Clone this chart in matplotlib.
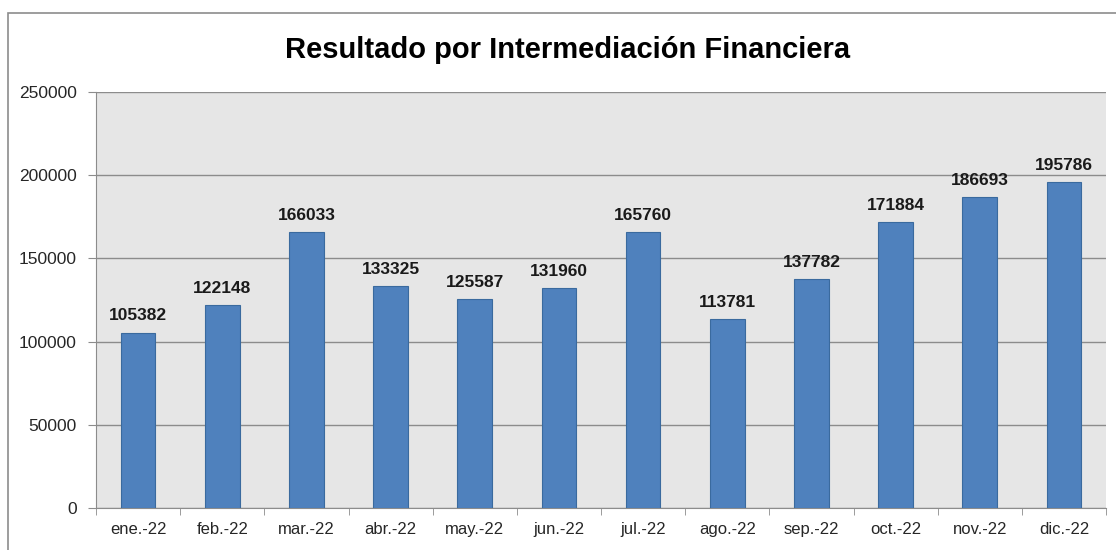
import numpy as np
import matplotlib.pyplot as plt
from matplotlib.patches import Rectangle

#___chart data___#
months = ["ene.-22", "feb.-22", "mar.-22", "abr.-22", "may.-22", "jun.-22",
          "jul.-22", "ago.-22", "sep.-22", "oct.-22", "nov.-22", "dic.-22"]
values = [105382, 122148, 166033, 133325, 125587, 131960,
          165760, 113781, 137782, 171884, 186693, 195786]
y_ticks = [0, 50000, 100000, 150000, 200000, 250000]

plt.rcParams['font.family'] = ['Liberation Sans', 'DejaVu Sans']

fig = plt.figure(figsize=(11.16, 5.5), dpi=100)
ax = fig.add_axes([96/1116, 1 - 508/550, (1106-96)/1116, (508-92)/550])

# outer chart frame (right and bottom edges fall outside the picture)
fig.patches.append(Rectangle((8/1116, -0.05), 1.05, 1.05 - 13/550,
                             transform=fig.transFigure, fill=False,
                             edgecolor="#8c8c8c", linewidth=1.2))

x = np.arange(len(months))
ax.set_facecolor("#e6e6e6")
bars = ax.bar(x, values, width=0.41, color="#4f81bd", edgecolor="#3a6a9e", linewidth=0.8, zorder=3)

for xi, v in zip(x, values):
    ax.text(xi, v + 5500, str(v), ha="center", va="bottom", fontsize=12.5, fontweight="bold", color="#1a1a1a")

ax.set_xlim(-0.5, len(months) - 0.5)
ax.set_ylim(0, 250000)
ax.set_yticks(y_ticks)
ax.set_yticklabels([str(t) for t in y_ticks])
ax.set_xticks(x)
ax.set_xticklabels(months)
ax.set_xticks(np.arange(len(months) + 1) - 0.5, minor=True)
ax.tick_params(axis="x", which="major", length=0, pad=10, labelsize=12, colors="#262626")
ax.tick_params(axis="x", which="minor", length=5, color="#8c8c8c")
ax.tick_params(axis="y", length=6, pad=8, color="#8c8c8c", labelsize=12.5, labelcolor="#262626")
ax.yaxis.grid(True, color="#8c8c8c", linewidth=1, zorder=0)
ax.set_axisbelow(True)
for s in ["top", "right"]:
    ax.spines[s].set_visible(False)
for s in ["left", "bottom"]:
    ax.spines[s].set_color("#8c8c8c")

fig.text(568/1116, 1 - 50/550, "Resultado por Intermediación Financiera", ha="center", va="center",
         fontsize=21, fontweight="bold", color="#000000")

fig.savefig("out.png", dpi=100)
